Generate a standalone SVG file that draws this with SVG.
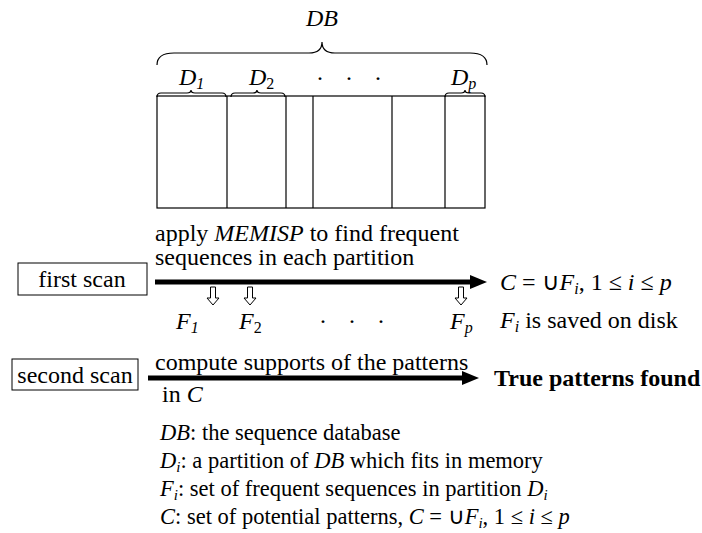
<svg xmlns="http://www.w3.org/2000/svg" width="702" height="533" viewBox="0 0 702 533" font-family="Liberation Serif, Times New Roman, serif">
<style>
text{fill:#000;font-size:24px;font-family:'Liberation Serif','Times New Roman',serif}
.it{font-style:italic}
.b{font-weight:bold}
.lg{font-size:22.5px}
.ln{stroke:#000;stroke-width:1.2;fill:none}
.box{stroke:#000;stroke-width:1;fill:#fff}
.thick{stroke:#000;stroke-width:5;fill:none}
.hollow{stroke:#000;stroke-width:1;fill:#fff}
</style>
<rect width="702" height="533" fill="#fff"/>
<g id="database">
  <text x="322" y="26" text-anchor="middle" class="it">DB</text>
  <path class="ln" d="M157,65 Q157,53 174,53 L309,53 Q322,53 322,42 Q322,53 335,53 L470,53 Q487,53 487,65"/>
  <text x="179" y="85" class="it">D<tspan font-size="16" dy="4">1</tspan></text>
  <text x="249" y="85" class="it">D<tspan font-size="16" dy="4" font-style="normal">2</tspan></text>
  <text x="320" y="80" text-anchor="middle">.</text>
  <text x="349" y="80" text-anchor="middle">.</text>
  <text x="378" y="80" text-anchor="middle">.</text>
  <text x="451" y="85" class="it">D<tspan font-size="16" dy="4">p</tspan></text>
  <path class="ln" d="M157,97 Q157,93 161,93 L187,93 Q191,93 191,90 Q191,93 195,93 L222,93 Q226,93 226,97"/>
  <path class="ln" d="M231,97 Q231,93 235,93 L253,93 Q257,93 257,90 Q257,93 261,93 L281,93 Q285,93 285,97"/>
  <path class="ln" d="M445,97 Q445,93 449,93 L461,93 Q465,93 465,90 Q465,93 469,93 L481,93 Q485,93 485,97"/>
  <rect x="157" y="96" width="328" height="112" class="ln"/>
  <line class="ln" x1="227" y1="96" x2="227" y2="208"/>
  <line class="ln" x1="286" y1="96" x2="286" y2="208"/>
  <line class="ln" x1="313" y1="96" x2="313" y2="208"/>
  <line class="ln" x1="392" y1="96" x2="392" y2="208"/>
  <line class="ln" x1="445" y1="96" x2="445" y2="208"/>
</g>
<g id="first-scan">
  <rect x="18" y="263" width="129" height="32" class="box"/>
  <text x="82" y="287" text-anchor="middle">first scan</text>
</g>
<g id="second-scan">
  <rect x="12" y="359" width="126" height="31" class="box"/>
  <text x="75" y="383" text-anchor="middle">second scan</text>
</g>
<g id="candidates">
  <text x="500" y="290"><tspan class="it">C</tspan> = ∪<tspan class="it">F</tspan><tspan class="it" font-size="16" dy="4">i</tspan><tspan dy="-4">, 1 ≤ </tspan><tspan class="it">i</tspan> ≤ <tspan class="it">p</tspan></text>
  <text x="500" y="328"><tspan class="it">F</tspan><tspan class="it" font-size="16" dy="4">i</tspan><tspan dy="-4"> is saved on disk</tspan></text>
</g>
<g id="true-patterns">
  <text x="494" y="386" class="b">True patterns found</text>
</g>
<g id="partition-results">
  <text x="176" y="329" class="it">F<tspan font-size="16" dy="4">1</tspan></text>
  <text x="239" y="329" class="it">F<tspan font-size="16" dy="4" font-style="normal">2</tspan></text>
  <text x="323" y="323" text-anchor="middle">.</text>
  <text x="352" y="323" text-anchor="middle">.</text>
  <text x="381" y="323" text-anchor="middle">.</text>
  <text x="450" y="329" class="it">F<tspan font-size="16" dy="4">p</tspan></text>
</g>
<g id="connectors">
  <line class="thick" x1="155" y1="282" x2="472" y2="282"/>
  <polygon points="470,275 487,282 470,289" fill="#000"/>
  <line class="thick" x1="148" y1="378" x2="464" y2="378"/>
  <polygon points="462,371 479,378 462,385" fill="#000"/>
  <polygon class="hollow" points="210.5,287 215.5,287 215.5,298 219,298 213,305 207,298 210.5,298"/>
  <polygon class="hollow" points="247.5,287 252.5,287 252.5,298 256,298 250,305 244,298 247.5,298"/>
  <polygon class="hollow" points="458.5,287 463.5,287 463.5,298 467,298 461,305 455,298 458.5,298"/>
  <text x="155" y="241">apply <tspan class="it">MEMISP</tspan> to find frequent</text>
  <text x="155" y="265">sequences in each partition</text>
  <text x="155" y="370">compute supports of the patterns</text>
  <text x="162" y="402">in <tspan class="it">C</tspan></text>
</g>
<g id="legend">
  <text x="160" y="440" class="lg"><tspan class="it">DB</tspan>: the sequence database</text>
  <text x="160" y="468" class="lg"><tspan class="it">D</tspan><tspan class="it" font-size="15" dy="4">i</tspan><tspan dy="-4">: a partition of </tspan><tspan class="it">DB</tspan> which fits in memory</text>
  <text x="160" y="496" class="lg"><tspan class="it">F</tspan><tspan class="it" font-size="15" dy="4">i</tspan><tspan dy="-4">: set of frequent sequences in partition </tspan><tspan class="it">D</tspan><tspan class="it" font-size="15" dy="4">i</tspan></text>
  <text x="160" y="524" class="lg"><tspan class="it">C</tspan>: set of potential patterns, <tspan class="it">C</tspan> = ∪<tspan class="it">F</tspan><tspan class="it" font-size="15" dy="4">i</tspan><tspan dy="-4">, 1 ≤ </tspan><tspan class="it">i</tspan> ≤ <tspan class="it">p</tspan></text>
</g>
</svg>
